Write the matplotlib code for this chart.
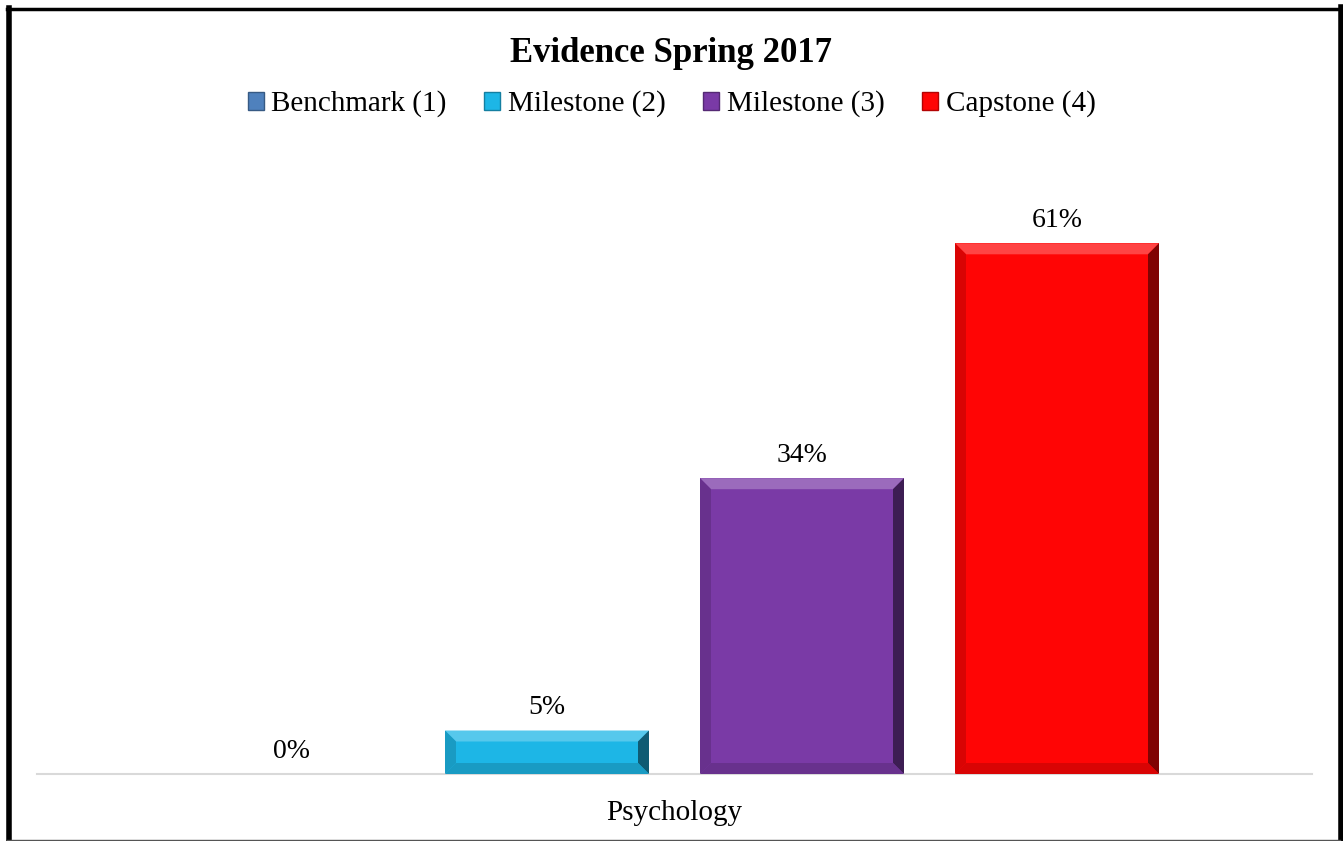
import matplotlib
matplotlib.use("Agg")
import matplotlib.pyplot as plt
from matplotlib.patches import Polygon, Patch
from matplotlib.lines import Line2D
import matplotlib.colors as mcolors
import numpy as np

title = "Evidence Spring 2017"
category = ["Psychology"]
series = ["Benchmark (1)", "Milestone (2)", "Milestone (3)", "Capstone (4)"]
values = [0.0, 0.05, 0.34, 0.61]
colors = ["#4F81BD", "#1DB6E6", "#7A3AA6", "#FF0505"]

W, H = 1343, 841
fig = plt.figure(figsize=(W / 100, H / 100), dpi=100)
plt.rcParams['font.family'] = ['Liberation Serif', 'DejaVu Serif']

ax_l, ax_r = 37 / W, 1312 / W
ax_b = 1 - 774 / H
ax_t = 1 - 165 / H
ax = fig.add_axes([ax_l, ax_b, ax_r - ax_l, ax_t - ax_b])
ax.set_xlim(-0.5, 0.5)
ax.set_ylim(0, 0.70)

n = len(series)
slot = 0.8 / n
bw = slot * 0.8
x0 = 0
bars = []
for i, (s, v, c) in enumerate(zip(series, values, colors)):
    xc = x0 - 0.4 + slot * (i + 0.5)
    b = ax.bar(xc, v, width=bw, color=c, label=s, zorder=2)
    bars.append(b[0])
    ax.text(xc, v + 0.0115, f"{v*100:.0f}%", ha="center", va="bottom",
            fontsize=20, color="#000000")

# bevel effect computed from bar geometry
px_x = 1.0 / ((ax_r - ax_l) * W)
px_y = 0.70 / ((ax_t - ax_b) * H)
bev = 11
for rect, c in zip(bars, colors):
    x, y = rect.get_x(), rect.get_y()
    w, h = rect.get_width(), rect.get_height()
    if h <= 0:
        continue
    bx, by = bev * px_x, min(bev * px_y, h / 2)
    rgb = np.array(mcolors.to_rgb(c))
    light = 1 - (1 - rgb) * 0.75
    dark = rgb * 0.5
    mid = rgb * 0.85
    top = Polygon([(x, y + h), (x + w, y + h), (x + w - bx, y + h - by), (x + bx, y + h - by)],
                  closed=True, color=light, lw=0, zorder=3)
    right = Polygon([(x + w, y + h), (x + w, y), (x + w - bx, y + by), (x + w - bx, y + h - by)],
                    closed=True, color=dark, lw=0, zorder=3)
    left = Polygon([(x, y + h), (x, y), (x + bx, y + by), (x + bx, y + h - by)],
                   closed=True, color=mid, lw=0, zorder=3)
    bottom = Polygon([(x, y), (x + w, y), (x + w - bx, y + by), (x + bx, y + by)],
                     closed=True, color=mid, lw=0, zorder=3)
    for p in (top, right, left, bottom):
        ax.add_patch(p)

for sp in ["top", "right", "left"]:
    ax.spines[sp].set_visible(False)
ax.spines["bottom"].set_color("#D9D9D9")
ax.spines["bottom"].set_linewidth(1.5)
ax.set_yticks([])
ax.set_xticks([x0])
ax.set_xticklabels(category, fontsize=21)
ax.tick_params(axis="x", length=0, pad=19)

fig.text(0.5, 1 - 53 / H, title, ha="center", va="center", fontsize=25, fontweight="bold")

handles = [Patch(facecolor=c, edgecolor=tuple(np.array(mcolors.to_rgb(c)) * 0.7), linewidth=1)
           for c in colors]
fig.legend(handles, series, loc="center", bbox_to_anchor=(0.5, 1 - 104 / H), ncol=4,
           frameon=False, fontsize=21, handlelength=0.55, handleheight=0.55,
           handletextpad=0.25, columnspacing=1.3)

# outer frame
fig.add_artist(Line2D([8.5 / W, 8.5 / W], [1 - 8 / H, 1 - 839 / H], color="black", lw=4, transform=fig.transFigure))
fig.add_artist(Line2D([7 / W, 1340 / W], [1 - 8.5 / H, 1 - 8.5 / H], color="black", lw=2.5, transform=fig.transFigure))
fig.add_artist(Line2D([1340.5 / W, 1340.5 / W], [1 - 7 / H, 1 - 840 / H], color="black", lw=4, transform=fig.transFigure))
fig.add_artist(Line2D([7 / W, 1340 / W], [1 - 839.5 / H, 1 - 839.5 / H], color="#555555", lw=1, transform=fig.transFigure))

fig.savefig("out.png", dpi=100)
